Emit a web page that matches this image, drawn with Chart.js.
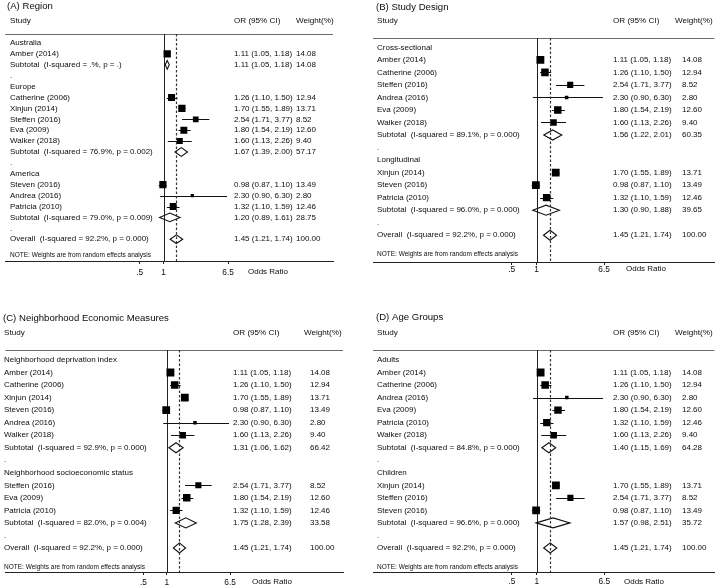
<!DOCTYPE html>
<html>
<head>
<meta charset="utf-8">
<script src="https://cdn.jsdelivr.net/npm/chart.js@4.4.0/dist/chart.umd.min.js"></script>
<style>
  html, body { margin: 0; padding: 0; background: #fff; }
  #wrap { position: relative; width: 720px; height: 586px; overflow: hidden; background: #fff; }
  .panel { position: absolute; }
</style>
</head>
<body>
<div id="wrap">
  <div class="panel" style="left:0;top:0"><canvas id="chartA" width="360" height="300"></canvas></div>
  <div class="panel" style="left:360px;top:0"><canvas id="chartB" width="360" height="300"></canvas></div>
  <div class="panel" style="left:0;top:300px"><canvas id="chartC" width="360" height="286"></canvas></div>
  <div class="panel" style="left:360px;top:300px"><canvas id="chartD" width="360" height="286"></canvas></div>
</div>
<script>
// individual studies
const studyNames = ['Amber (2014)', 'Catherine (2006)', 'Xinjun (2014)', 'Steffen (2016)', 'Eva (2009)',
                    'Walker (2018)', 'Steven (2016)', 'Andrea (2016)', 'Patricia (2010)'];
const studyOR     = [1.11, 1.26, 1.70, 2.54, 1.80, 1.60, 0.98, 2.30, 1.32];
const studyLo     = [1.05, 1.10, 1.55, 1.71, 1.54, 1.13, 0.87, 0.90, 1.10];
const studyHi     = [1.18, 1.50, 1.89, 3.77, 2.19, 2.26, 1.10, 6.30, 1.59];
const studyWeight = [14.08, 12.94, 13.71, 8.52, 12.60, 9.40, 13.49, 2.80, 12.46];

// pooled estimate
const overallEst = [1.45, 1.21, 1.74, 100.00];
const overallHet = 'I-squared = 92.2%, p = 0.000';

const tickValues = [0.5, 1, 6.5];
const tickLabels = ['.5', '1', '6.5'];

// (A) Region
const regionGroups  = ['Australia', 'Europe', 'America'];
const regionMembers = [['Amber (2014)'],
                       ['Catherine (2006)', 'Xinjun (2014)', 'Steffen (2016)', 'Eva (2009)', 'Walker (2018)'],
                       ['Steven (2016)', 'Andrea (2016)', 'Patricia (2010)']];
const regionSubOR = [1.11, 1.67, 1.20];
const regionSubLo = [1.05, 1.39, 0.89];
const regionSubHi = [1.18, 2.00, 1.61];
const regionSubW  = [14.08, 57.17, 28.75];
const regionHet   = ['I-squared = .%, p = .', 'I-squared = 76.9%, p = 0.002', 'I-squared = 79.0%, p = 0.009'];

// (B) Study design
const designGroups  = ['Cross-sectional', 'Longitudinal'];
const designMembers = [['Amber (2014)', 'Catherine (2006)', 'Steffen (2016)', 'Andrea (2016)', 'Eva (2009)', 'Walker (2018)'],
                       ['Xinjun (2014)', 'Steven (2016)', 'Patricia (2010)']];
const designSubOR = [1.56, 1.30];
const designSubLo = [1.22, 0.90];
const designSubHi = [2.01, 1.88];
const designSubW  = [60.35, 39.65];
const designHet   = ['I-squared = 89.1%, p = 0.000', 'I-squared = 96.0%, p = 0.000'];

// (C) Neighborhood economic measures
const econGroups  = ['Neighborhood deprivation index', 'Neighborhood socioeconomic status'];
const econMembers = [['Amber (2014)', 'Catherine (2006)', 'Xinjun (2014)', 'Steven (2016)', 'Andrea (2016)', 'Walker (2018)'],
                     ['Steffen (2016)', 'Eva (2009)', 'Patricia (2010)']];
const econSubOR = [1.31, 1.75];
const econSubLo = [1.06, 1.28];
const econSubHi = [1.62, 2.39];
const econSubW  = [66.42, 33.58];
const econHet   = ['I-squared = 92.9%, p = 0.000', 'I-squared = 82.0%, p = 0.004'];

// (D) Age groups
const ageGroups  = ['Adults', 'Children'];
const ageMembers = [['Amber (2014)', 'Catherine (2006)', 'Andrea (2016)', 'Eva (2009)', 'Patricia (2010)', 'Walker (2018)'],
                    ['Xinjun (2014)', 'Steffen (2016)', 'Steven (2016)']];
const ageSubOR = [1.40, 1.57];
const ageSubLo = [1.15, 0.98];
const ageSubHi = [1.69, 2.51];
const ageSubW  = [64.28, 35.72];
const ageHet   = ['I-squared = 84.8%, p = 0.000', 'I-squared = 96.6%, p = 0.000'];

const FONT = 'Arial, "Liberation Sans", Helvetica, sans-serif';
const INK = '#0c0c0c';

function buildRows(groups, members, subOR, subLo, subHi, subW, het) {
  const rows = [];
  groups.forEach((g, gi) => {
    rows.push({ type: 'group', label: g });
    members[gi].forEach(name => {
      const i = studyNames.indexOf(name);
      rows.push({ type: 'study', label: name, or: studyOR[i], lo: studyLo[i], hi: studyHi[i], w: studyWeight[i] });
    });
    rows.push({ type: 'sub', label: 'Subtotal  (' + het[gi] + ')', or: subOR[gi], lo: subLo[gi], hi: subHi[gi], w: subW[gi] });
    rows.push({ type: 'dot', label: '.' });
  });
  rows.push({ type: 'sub', label: 'Overall  (' + overallHet + ')',
              or: overallEst[0], lo: overallEst[1], hi: overallEst[2], w: overallEst[3] });
  return rows;
}

const f2 = v => v.toFixed(2);

const forestPlugin = {
  id: 'forest',
  beforeDatasetsDraw(chart) {
    const { ctx, chartArea: a, scales: { x, y } } = chart;
    const o = chart.options.plugins.forest;
    ctx.save();
    ctx.lineWidth = 1;
    ctx.strokeStyle = '#6a6a6a';
    ctx.beginPath(); ctx.moveTo(a.left, a.top + 0.5); ctx.lineTo(a.right, a.top + 0.5); ctx.stroke();
    // no-effect line
    const x1 = Math.round(x.getPixelForValue(1)) + 0.5;
    ctx.strokeStyle = '#222';
    ctx.beginPath(); ctx.moveTo(x1, a.top); ctx.lineTo(x1, a.bottom); ctx.stroke();
    // confidence intervals
    ctx.strokeStyle = '#111';
    o.rows.forEach((r, i) => {
      if (r.type !== 'study') return;
      const yy = Math.round(y.getPixelForValue(i)) + 0.5;
      ctx.beginPath();
      ctx.moveTo(x.getPixelForValue(r.lo), yy);
      ctx.lineTo(x.getPixelForValue(r.hi), yy);
      ctx.stroke();
    });
    ctx.restore();
  },
  afterDatasetsDraw(chart) {
    const { ctx, chartArea: a, scales: { x, y } } = chart;
    const o = chart.options.plugins.forest;
    const L = o.lay;
    ctx.save();
    // pooled diamonds
    ctx.strokeStyle = '#111';
    ctx.lineWidth = 1.1;
    const hh = (y.getPixelForValue(1) - y.getPixelForValue(0)) * 0.4;
    o.rows.forEach((r, i) => {
      if (r.type !== 'sub') return;
      const yy = y.getPixelForValue(i);
      const xl = x.getPixelForValue(r.lo), xm = x.getPixelForValue(r.or), xr = x.getPixelForValue(r.hi);
      ctx.beginPath();
      ctx.moveTo(xl, yy); ctx.lineTo(xm, yy - hh); ctx.lineTo(xr, yy); ctx.lineTo(xm, yy + hh); ctx.closePath();
      ctx.stroke();
    });
    // overall dashed line
    const xo = Math.round(x.getPixelForValue(overallEst[0])) + 0.5;
    ctx.strokeStyle = '#333';
    ctx.lineWidth = 1.2;
    ctx.setLineDash([2.5, 2]);
    ctx.beginPath(); ctx.moveTo(xo, a.top); ctx.lineTo(xo, a.bottom); ctx.stroke();
    ctx.setLineDash([]);

    // texts
    ctx.fillStyle = INK;
    ctx.textBaseline = 'middle';
    ctx.textAlign = 'left';
    ctx.font = '9.6px ' + FONT;
    ctx.fillText(o.title, L.titleX, L.titleY);
    ctx.font = '8.1px ' + FONT;
    ctx.fillText('Study', L.textX, L.headY);
    ctx.fillText('OR (95% CI)', L.orX, L.headY);
    ctx.fillText('Weight(%)', L.wHeadX, L.headY);
    ctx.font = '8px ' + FONT;
    o.rows.forEach((r, i) => {
      const yy = y.getPixelForValue(i);
      ctx.fillText(r.label, L.textX, yy);
      if (r.type === 'study' || r.type === 'sub') {
        ctx.fillText(f2(r.or) + ' (' + f2(r.lo) + ', ' + f2(r.hi) + ')', L.orX, yy);
        ctx.fillText(f2(r.w), L.wX, yy);
      }
    });
    ctx.font = '6.5px ' + FONT;
    ctx.fillText('NOTE: Weights are from random effects analysis', L.textX, y.getPixelForValue(o.rows.length - 1 + 1.5));
    ctx.font = '8px ' + FONT;
    ctx.fillText('Odds Ratio', L.oddsX, a.bottom + L.oddsDy);
    ctx.restore();
  }
};

function makeForest(id, title, rows, L) {
  const xmin = Math.exp((L.left - L.p1) / L.k);
  const xmax = Math.exp((L.right - L.p1) / L.k);
  const ymin = -(L.row0Y - L.headerY) / L.step;
  const ymax = (L.axisY - L.row0Y) / L.step;
  const pts = [], radii = [];
  rows.forEach((r, i) => {
    if (r.type === 'study') {
      pts.push({ x: r.or, y: i });
      radii.push(L.box * Math.sqrt(r.w) / Math.SQRT2);
    }
  });
  return new Chart(document.getElementById(id), {
    type: 'scatter',
    data: {
      datasets: [{
        data: pts,
        pointStyle: 'rect',
        pointRadius: radii,
        pointHoverRadius: radii,
        backgroundColor: '#000',
        borderColor: '#000',
        borderWidth: 0
      }]
    },
    options: {
      responsive: false,
      animation: false,
      events: [],
      layout: { padding: { left: L.left, right: L.W - L.right, top: L.headerY, bottom: L.H - L.axisY - 20 } },
      scales: {
        x: {
          type: 'logarithmic',
          position: 'bottom',
          min: xmin,
          max: xmax,
          afterBuildTicks: s => { s.ticks = tickValues.map(v => ({ value: v })); },
          afterFit: s => { s.height = 20; },
          ticks: {
            autoSkip: false,
            maxRotation: 0,
            padding: L.tickPad,
            color: INK,
            font: { family: FONT, size: 8.3 },
            callback: (v, i) => tickLabels[i]
          },
          grid: { drawOnChartArea: false, drawTicks: true, tickLength: 3, color: '#222' },
          border: { display: true, color: '#222', width: 1 }
        },
        y: { type: 'linear', display: false, reverse: true, min: ymin, max: ymax }
      },
      plugins: {
        legend: { display: false },
        tooltip: { enabled: false },
        forest: { rows: rows, title: title, lay: L }
      }
    },
    plugins: [forestPlugin]
  });
}

const layA = { W: 360, H: 300, headerY: 34, axisY: 261, row0Y: 43, step: 10.9, left: 5, right: 333, p1: 163.5, k: 34.5, box: 1.95,
               titleX: 7, titleY: 6, headY: 21, textX: 10, orX: 234, wHeadX: 296, wX: 296, tickPad: 4, oddsX: 248, oddsDy: 11 };
const layB = { W: 360, H: 300, headerY: 38, axisY: 262, row0Y: 47.3, step: 12.53, left: 13, right: 360, p1: 179.3, k: 36.6, box: 2.1,
               titleX: 16, titleY: 7, headY: 21, textX: 17, orX: 253, wHeadX: 315, wX: 322, tickPad: 0, oddsX: 266, oddsDy: 7 };
const layC = { W: 360, H: 286, headerY: 50, axisY: 272, row0Y: 60, step: 12.53, left: 0, right: 343, p1: 164, k: 34.3, box: 2.1,
               titleX: 3, titleY: 18, headY: 33, textX: 4, orX: 233, wHeadX: 304, wX: 310, tickPad: 3, oddsX: 252, oddsDy: 10 };
const layD = { W: 360, H: 286, headerY: 50, axisY: 272, row0Y: 60, step: 12.53, left: 13, right: 360, p1: 179.5, k: 36.6, box: 2.1,
               titleX: 16, titleY: 17, headY: 33, textX: 17, orX: 253, wHeadX: 315, wX: 322, tickPad: 2, oddsX: 264, oddsDy: 10 };

makeForest('chartA', '(A) Region',
  buildRows(regionGroups, regionMembers, regionSubOR, regionSubLo, regionSubHi, regionSubW, regionHet), layA);
makeForest('chartB', '(B) Study Design',
  buildRows(designGroups, designMembers, designSubOR, designSubLo, designSubHi, designSubW, designHet), layB);
makeForest('chartC', '(C) Neighborhood Economic Measures',
  buildRows(econGroups, econMembers, econSubOR, econSubLo, econSubHi, econSubW, econHet), layC);
makeForest('chartD', '(D) Age Groups',
  buildRows(ageGroups, ageMembers, ageSubOR, ageSubLo, ageSubHi, ageSubW, ageHet), layD);
</script>
</body>
</html>
